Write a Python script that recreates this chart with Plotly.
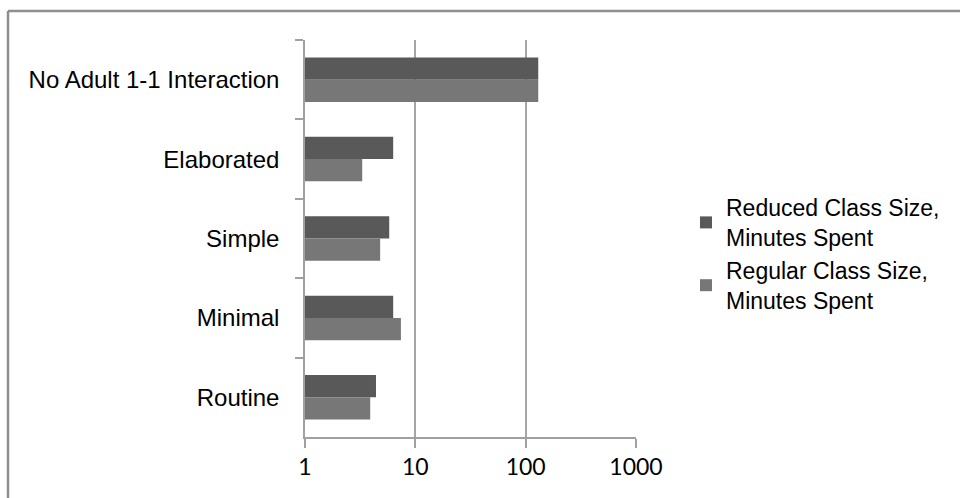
import plotly.graph_objects as go

categories = ["No Adult 1-1 Interaction", "Elaborated", "Simple", "Minimal", "Routine"]
reduced_minutes = [130, 6.3, 5.8, 6.3, 4.4]
regular_minutes = [130, 3.3, 4.8, 7.4, 3.9]
series_names = ["Reduced Class Size,<br>Minutes Spent", "Regular Class Size,<br>Minutes Spent"]
x_tick_vals = [1, 10, 100, 1000]
x_tick_text = ["1", "10", "100", "1000"]

W, H = 960, 498
L, T = 305, 40
pw, ph = 331, 397
R, B = W - L - pw, H - T - ph

def px_to_paper_x(px):
    return (px - L) / pw

def px_to_paper_y(py):
    return (T + ph - py) / ph

fig = go.Figure()
fig.add_trace(go.Bar(
    y=categories, x=reduced_minutes, orientation="h", name=series_names[0],
    marker=dict(color="#595959", line=dict(width=0)),
))
fig.add_trace(go.Bar(
    y=categories, x=regular_minutes, orientation="h", name=series_names[1],
    marker=dict(color="#777777", line=dict(width=0)),
))

fig.update_layout(
    width=W, height=H,
    margin=dict(l=L, r=R, t=T, b=B, pad=0),
    paper_bgcolor="white", plot_bgcolor="white",
    barmode="group", bargap=0.44, bargroupgap=0,
    font=dict(family="Liberation Sans, Arial, sans-serif", size=23, color="#000000"),
    legend=dict(
        x=px_to_paper_x(686), xanchor="left",
        y=px_to_paper_y(254), yanchor="middle",
        font=dict(size=23, color="#000000"),
        tracegroupgap=6, itemwidth=30,
        bgcolor="rgba(0,0,0,0)",
    ),
    showlegend=True,
)

fig.update_xaxes(
    type="log", range=[0, 3],
    tickvals=x_tick_vals, ticktext=x_tick_text,
    showgrid=True, gridcolor="#a6a6a6", gridwidth=1.5,
    showline=True, linecolor="#a0a0a0", linewidth=1.5,
    ticks="outside", ticklen=9, tickcolor="#a0a0a0", tickwidth=1.5,
    tickfont=dict(family="Lato, Carlito, Liberation Sans, sans-serif", size=23, color="#000000"),
    zeroline=False, fixedrange=True,
)
fig.update_yaxes(
    type="category", autorange="reversed",
    showgrid=False,
    showline=True, linecolor="#a0a0a0", linewidth=1.5,
    ticks="outside", ticklen=8, tickcolor="#a0a0a0", tickwidth=1.5,
    tickson="boundaries",
    ticklabelstandoff=19,
    tickfont=dict(family="Liberation Sans, Arial, sans-serif", size=24, color="#000000"),
    fixedrange=True,
)

# outer chart frame: only its top and left edges fall inside the picture
fx0, fy0 = px_to_paper_x(8), px_to_paper_y(11)
fig.add_shape(type="line", xref="paper", yref="paper",
              x0=fx0, x1=px_to_paper_x(1100), y0=fy0, y1=fy0,
              line=dict(color="#8f8f8f", width=2.5), layer="below")
fig.add_shape(type="line", xref="paper", yref="paper",
              x0=fx0, x1=fx0, y0=fy0, y1=px_to_paper_y(600),
              line=dict(color="#8f8f8f", width=2.5), layer="below")

fig.write_html(
    "out.html",
    config={"displayModeBar": False},
    post_script="document.body.style.margin='0';document.body.style.overflow='hidden';",
)
